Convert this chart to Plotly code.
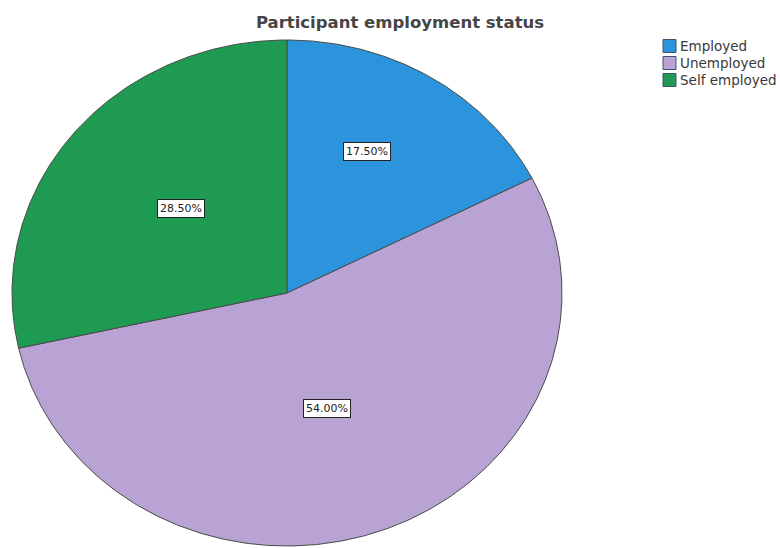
import numpy as np
import plotly.graph_objects as go

# Employment status of participants (percent)
categories = ["Employed", "Unemployed", "Self employed"]
percentages = [17.50, 54.00, 28.50]
value_labels = ["17.50%", "54.00%", "28.50%"]

colors = ["#2b94dc", "#b9a2d4", "#1f9a52"]
outline = "#4a4a4a"

# Pie geometry in pixel space (axes map 1 unit = 1 px)
W, H = 780, 548
cx, cy = 287, 293
rx, ry = 275, 253
# label placement: fraction of radius and angular nudge (deg) per slice
label_r = [0.63, 0.48, 0.51]
label_shift = [-4, 2, 2]

fig = go.Figure()

total = sum(percentages)
start = 0.0
for i, (name, pct) in enumerate(zip(categories, percentages)):
    sweep = 360.0 * pct / total
    theta = np.radians(np.linspace(start, start + sweep, max(int(sweep * 2), 4)))
    xs = np.concatenate([[cx], cx + rx * np.sin(theta), [cx]])
    ys = np.concatenate([[cy], cy - ry * np.cos(theta), [cy]])
    fig.add_trace(go.Scatter(
        x=xs, y=ys, mode="lines", fill="toself",
        fillcolor=colors[i], line=dict(color=outline, width=1),
        hoverinfo="text", text=f"{name}: {value_labels[i]}",
        showlegend=False,
    ))
    mid = np.radians(start + sweep / 2 + label_shift[i])
    fig.add_annotation(
        x=cx + label_r[i] * rx * np.sin(mid),
        y=cy - label_r[i] * ry * np.cos(mid),
        text=value_labels[i], showarrow=False,
        font=dict(family="DejaVu Sans, sans-serif", size=11, color="#222222"),
        bgcolor="white", bordercolor="#222222", borderwidth=1, borderpad=2,
    )
    start += sweep

# legend: square swatches with labels, top-right
leg_x, leg_y0, leg_dy, sw = 663, 46, 17, 13
for i, (name, col) in enumerate(zip(categories, colors)):
    yc = leg_y0 + i * leg_dy
    fig.add_shape(
        type="rect", xref="x", yref="y",
        x0=leg_x, x1=leg_x + sw, y0=yc - sw / 2, y1=yc + sw / 2,
        fillcolor=col, line=dict(color="#3c5470", width=1),
    )
    fig.add_annotation(
        x=leg_x + sw + 2, y=yc, xanchor="left", yanchor="middle",
        text=name, showarrow=False,
        font=dict(family="DejaVu Sans, sans-serif", size=13.5, color="#3a3a3a"),
    )

fig.update_layout(
    width=W, height=H,
    margin=dict(l=0, r=0, t=0, b=0),
    paper_bgcolor="white", plot_bgcolor="white",
    showlegend=False,
    title=dict(
        text="<b>Participant employment status</b>",
        x=400 / W, xanchor="center", y=1 - 22 / H, yanchor="middle",
        font=dict(family="DejaVu Sans, sans-serif", size=16.5, color="#454545"),
    ),
    xaxis=dict(range=[0, W], visible=False, fixedrange=True),
    yaxis=dict(range=[H, 0], visible=False, fixedrange=True),
)

fig.write_html("out.html")
